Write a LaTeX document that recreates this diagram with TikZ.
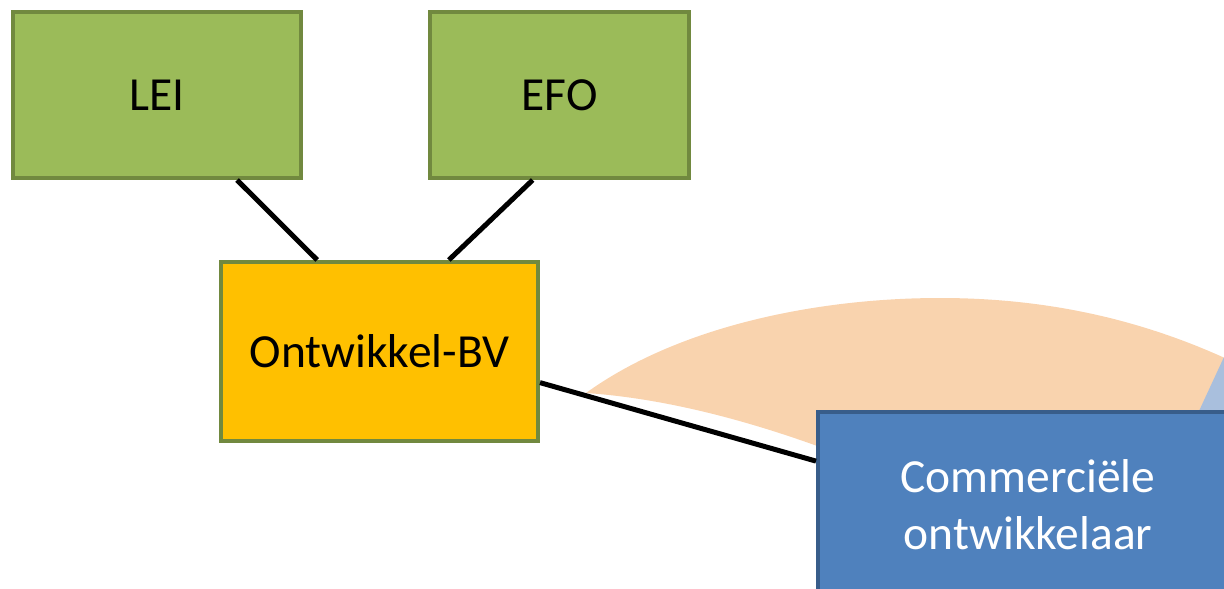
\documentclass[tikz,border=0pt]{standalone}
\usepackage{fontspec}
\setmainfont{Carlito}
\usetikzlibrary{calc}
\definecolor{grnfill}{HTML}{9BBB59}
\definecolor{grnline}{HTML}{71893F}
\definecolor{orgfill}{HTML}{FFC000}
\definecolor{blufill}{HTML}{4F81BD}
\definecolor{bluline}{HTML}{385D8A}
\definecolor{peach}{HTML}{F9D3AE}
\definecolor{lblue}{HTML}{A9BFDD}
\begin{document}
\begin{tikzpicture}[x=1pt,y=-1pt,
  box/.style={rectangle, draw, line width=4pt, inner sep=0pt,
    font=\fontsize{47.5}{57}\selectfont, align=center},
  greenbox/.style={box, fill=grnfill, draw=grnline, text=black},
  orangebox/.style={box, fill=orgfill, draw=grnline, text=black},
  bluebox/.style={box, fill=blufill, draw=bluline, text=white},
  conn/.style={line width=5pt, black}]
\useasboundingbox (0,0) rectangle (1224,589);
\clip (0,0) rectangle (1224,589);
% background curved arrow shapes
\fill[peach] (586,393) .. controls (680,325) and (820,298) .. (940,298)
  .. controls (1060,298) and (1160,325) .. (1250,370)
  -- (1250,480) -- (900,480) -- (820,447)
  .. controls (740,418) and (660,398) .. (586,393) -- cycle;
\fill[lblue] (1199,411) -- (1224,357) -- (1240,350) -- (1240,411) -- cycle;
% boxes
\node[greenbox, minimum width=288, minimum height=166] (lei) at (157,95) {LEI};
\node[greenbox, minimum width=259, minimum height=166] (efo) at (559.5,95) {EFO};
\node[orangebox, minimum width=317, minimum height=179] (obv) at (379.5,351.5) {Ontwikkel-BV};
% connectors
\draw[conn] ($(lei.south west)!0.774!(lei.south east)$) -- ($(obv.north west)!0.306!(obv.north east)$);
\draw[conn] ($(efo.south west)!0.398!(efo.south east)$) -- ($(obv.north west)!0.716!(obv.north east)$);
\node[bluebox, minimum width=420, minimum height=186] (com) at (1028,505) {Commerciële\\ontwikkelaar};
\draw[conn] ($(obv.north east)!0.67!(obv.south east)$) -- ($(com.north west)!0.269!(com.south west)$);
\end{tikzpicture}
\end{document}
